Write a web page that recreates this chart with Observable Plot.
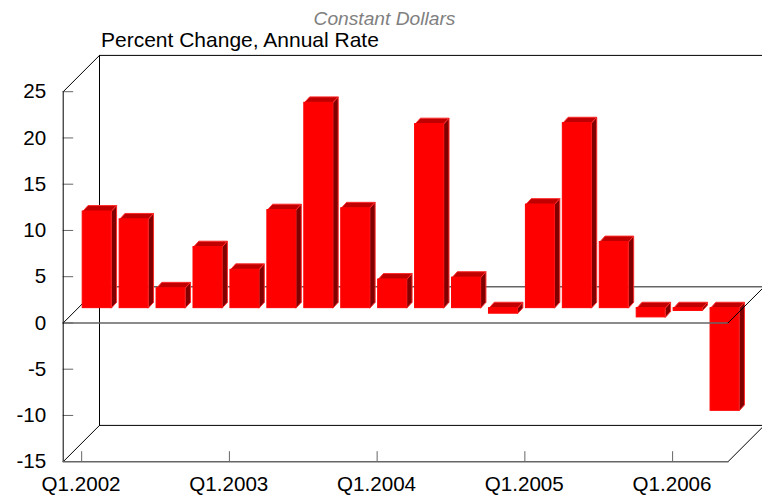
<!DOCTYPE html>
<html>
<head>
<meta charset="utf-8">
<script src="https://cdn.jsdelivr.net/npm/d3@7"></script>
<script src="https://cdn.jsdelivr.net/npm/@observablehq/plot@0.6"></script>
<style>html,body{margin:0;padding:0;background:#fff}svg{display:block}</style>
</head>
<body>
<div id="chart"></div>
<script>
const title = "Constant Dollars";
const subtitle = "Percent Change, Annual Rate";
const quarters = ["Q1.2002","Q2.2002","Q3.2002","Q4.2002","Q1.2003","Q2.2003","Q3.2003","Q4.2003","Q1.2004","Q2.2004","Q3.2004","Q4.2004","Q1.2005","Q2.2005","Q3.2005","Q4.2005","Q1.2006","Q2.2006"];
const values = [10.45,9.6,2.15,6.6,4.15,10.6,22.2,10.8,3.1,19.9,3.3,-0.6,11.2,20,7.15,-1.0,-0.3,-11.1];
const yTicks = [-15,-10,-5,0,5,10,15,20,25];
const labelEvery = 4;

const x0 = 62.7, x1 = 727.5, yBottom = 461.2, yTop = 91.2;
const uX = (x1 - x0) / quarters.length, uY = (yBottom - yTop) / 40;
const px = d => d / uX, py = d => d / uY;
const wall = 36.3, planeZ = 14.8, barDepthX = 5.3, barDepthY = 5.9;
const yMin = -15, yMax = 25, n = quarters.length;
const inset = 4.7 / uX, barEnd = 33.3 / uX;
const shiftX = px(planeZ), shiftY = py(planeZ);

const front = [], tops = [], sides = [];
values.forEach((v, i) => {
  const a = i + shiftX + inset, b = i + shiftX + barEnd;
  const hi = Math.max(v, 0) + shiftY, lo = Math.min(v, 0) + shiftY;
  front.push({x1: a, x2: b, y1: lo, y2: hi});
  const ddx = px(barDepthX), ddy = py(barDepthY);
  [[a,hi],[b,hi],[b+ddx,hi+ddy],[a+ddx,hi+ddy],[a,hi]].forEach(p => tops.push({x:p[0], y:p[1], k:i}));
  [[b,hi],[b+ddx,hi+ddy],[b+ddx,lo+ddy],[b,lo],[b,hi]].forEach(p => sides.push({x:p[0], y:p[1], k:i}));
});

const wx = px(wall), wy = py(wall);
const seg = (ax, ay, bx, by) => [{x: ax, y: ay}, {x: bx, y: by}];
const line = (pts, stroke, w = 1) => Plot.line(pts, {x: "x", y: "y", stroke, strokeWidth: w, clip: false});
const black = "#000", gray = "#666";

const chart = Plot.plot({
  width: 762, height: 496,
  marginLeft: x0, marginRight: 762 - x1, marginTop: yTop, marginBottom: 496 - yBottom,
  style: {fontFamily: "'Liberation Sans', Arial, sans-serif", background: "#fff", overflow: "hidden"},
  x: {type: "linear", domain: [0, n], range: [x0, x1]},
  y: {type: "linear", domain: [yMin, yMax], range: [yBottom, yTop]},
  marks: [
    line(seg(wx, yMin + wy, wx, yMax + wy), black),
    line(seg(wx, yMax + wy, n + wx, yMax + wy), black),
    line(seg(wx, yMin + wy, n + wx, yMin + wy), black),
    line(seg(0, yMin, wx, yMin + wy), black),
    line(seg(n, yMin, n + wx, yMin + wy), black),
    line(seg(0, yMax, wx, yMax + wy), black),
    line(seg(wx, wy, n + wx, wy), gray, 1.5),
    line(seg(0, 0, wx, wy), black),
    Plot.ruleY(yTicks.filter(t => t > yMin), {x1: 0, x2: px(10.5), stroke: gray}),
    Plot.line(tops, {x: "x", y: "y", z: "k", fill: "#c00000", stroke: "#ff2a2a", strokeWidth: 1}),
    Plot.line(sides, {x: "x", y: "y", z: "k", fill: "#800000", stroke: "#ff2a2a", strokeWidth: 1}),
    Plot.rect(front, {x1: "x1", x2: "x2", y1: "y1", y2: "y2", fill: "#ff0000", stroke: "#ff0000", strokeWidth: 1}),
    line(seg(0, 0, n, 0), gray, 1.5),
    line(seg(n, 0, n + wx, wy), black),
    line(seg(0, yMin, 0, yMax), black),
    line(seg(0, yMin, n, yMin), gray, 1.5),
    Plot.axisY(yTicks, {anchor: "left", tickSize: 0, tickPadding: 17, tickFormat: d => `${d}`, label: null, fontSize: 20.6, fill: "#000"}),
    Plot.ruleX(d3.range(0, n, labelEvery).map(i => i + 0.5), {y1: yMin, y2: yMin + py(10), stroke: gray}),
    Plot.axisX(d3.range(0, n, labelEvery).map(i => i + 0.5), {anchor: "bottom", tickSize: 0, tickPadding: 15, dx: -0.6, tickFormat: d => quarters[d - 0.5], label: null, fontSize: 20.6, fill: "#000"}),
    Plot.text([title], {text: d => d, x: () => px(384 - x0), y: () => yMax + py(91.2 - 18), fontSize: 19.2, fontStyle: "italic", fill: "#808080", lineAnchor: "middle", textAnchor: "middle", clip: false}),
    Plot.text([subtitle], {text: d => d, x: () => px(100.5 - x0), y: () => yMax + py(91.2 - 40), fontSize: 21, fill: "#000", textAnchor: "start", lineAnchor: "middle", clip: false})
  ]
});
document.getElementById("chart").appendChild(chart);
</script>
</body>
</html>
